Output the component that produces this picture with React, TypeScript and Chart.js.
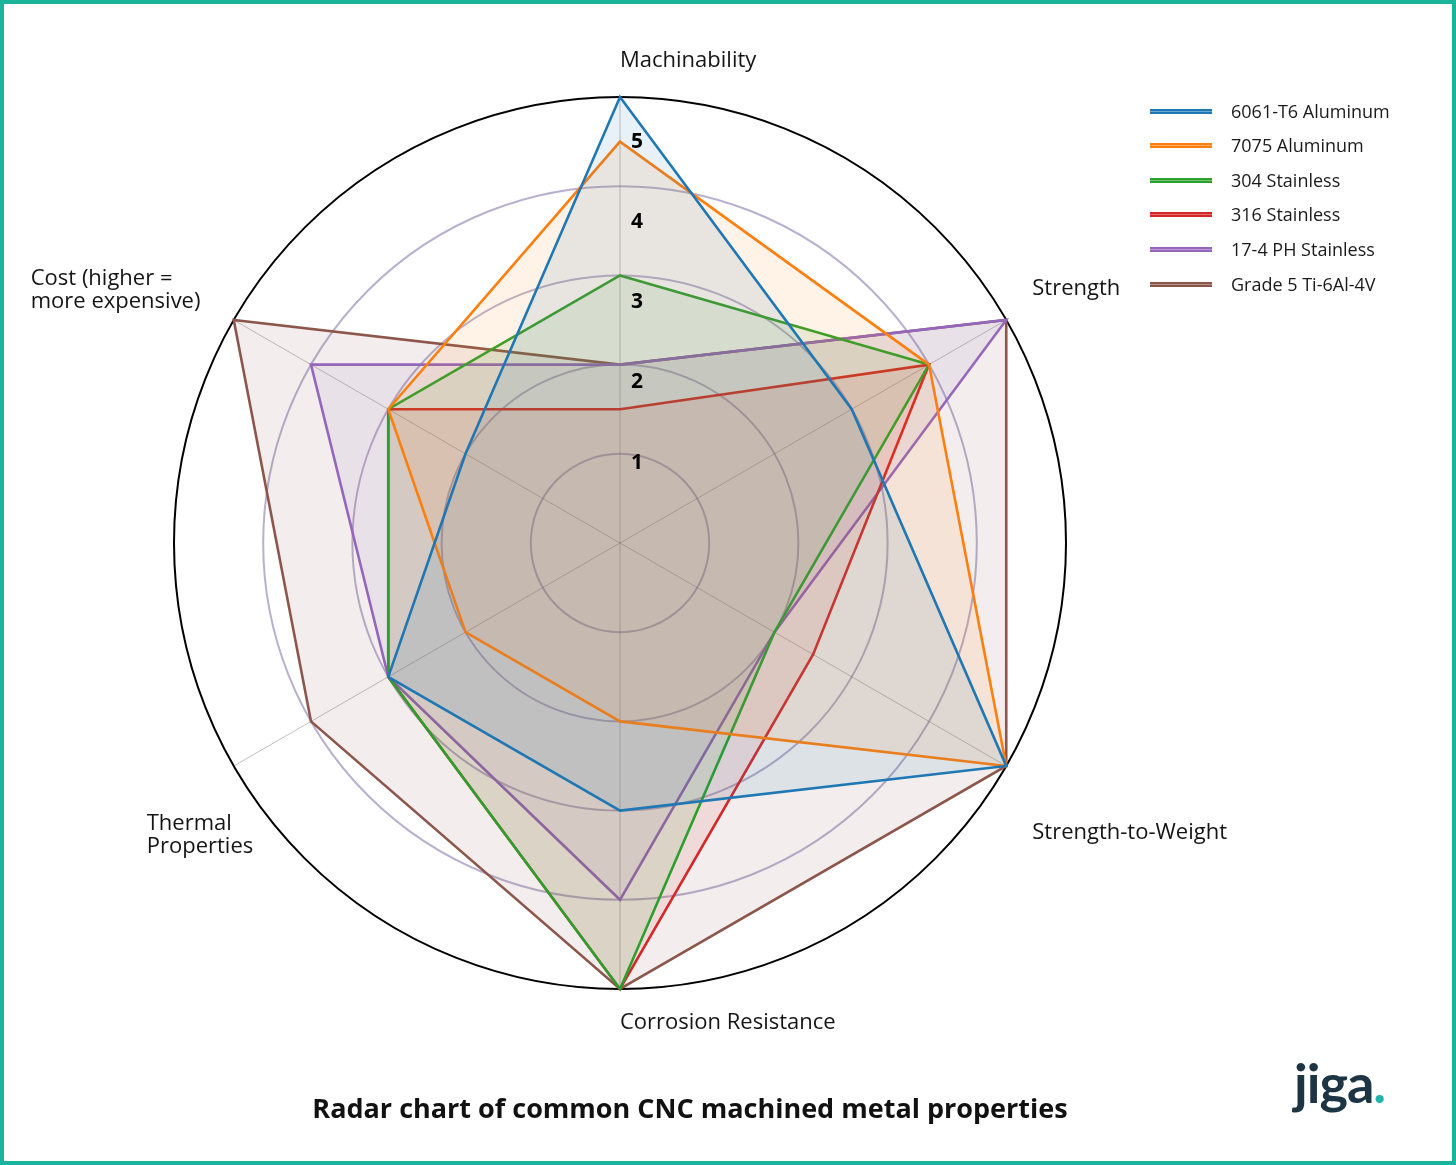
import React, { useEffect, useRef } from "react";
import { Chart, registerables } from "chart.js";

Chart.register(...registerables);

// ---------- data ----------
const categories = [
  "Machinability",
  "Strength",
  "Strength-to-Weight",
  "Corrosion Resistance",
  "Thermal Properties",
  "Cost (higher = more expensive)",
];
const categoryLines = [
  ["Machinability"],
  ["Strength"],
  ["Strength-to-Weight"],
  ["Corrosion Resistance"],
  ["Thermal", "Properties"],
  ["Cost (higher =", "more expensive)"],
];
const seriesNames = [
  "6061-T6 Aluminum",
  "7075 Aluminum",
  "304 Stainless",
  "316 Stainless",
  "17-4 PH Stainless",
  "Grade 5 Ti-6Al-4V",
];
const aluminum6061 = [5, 3, 5, 3, 3, 2];
const aluminum7075 = [4.5, 4, 5, 2, 2, 3];
const stainless304 = [3, 4, 2, 5, 3, 3];
const stainless316 = [1.5, 4, 2.5, 5, 3, 3];
const stainless174 = [2, 5, 2, 4, 3, 4];
const titaniumGr5 = [2, 5, 5, 5, 4, 5];
const seriesValues = [aluminum6061, aluminum7075, stainless304, stainless316, stainless174, titaniumGr5];
const tickValues = [1, 2, 3, 4, 5];
const scaleMin = 0;
const scaleMax = 5;
const chartTitle = "Radar chart of common CNC machined metal properties";

// ---------- styles ----------
const seriesColors = ["#1f77b4", "#ff7f0e", "#2ca02c", "#d62728", "#9467bd", "#8c564b"];
const FONT = "'Open Sans', Lato, sans-serif";
const TEAL = "#1ab39c";

function hexToRgba(hex: string, a: number) {
  const n = parseInt(hex.slice(1), 16);
  return `rgba(${(n >> 16) & 255},${(n >> 8) & 255},${n & 255},${a})`;
}

// label placement relative to each spoke end (left edge offset, block-centre offset)
const labelOffsets = [
  { dx: 0, dy: -36 },
  { dx: 26, dy: -31 },
  { dx: 26, dy: 67 },
  { dx: 0, dy: 34 },
  { dx: -87, dy: 69 },
  { dx: -203, dy: -30 },
];

const labelPlugin = {
  id: "customLabels",
  afterDatasetsDraw(chart: any) {
    const scale = chart.scales.r;
    const ctx = chart.ctx;
    ctx.save();
    // radial tick labels
    ctx.font = `bold 21px ${FONT}`;
    ctx.fillStyle = "#000";
    ctx.textAlign = "center";
    ctx.textBaseline = "middle";
    tickValues.forEach((v) => {
      const d = scale.getDistanceFromCenterForValue(v) * 0.9;
      ctx.fillText(String(v), scale.xCenter + 17, scale.yCenter - d);
    });
    // category labels
    ctx.font = `22px ${FONT}`;
    ctx.fillStyle = "#151515";
    ctx.textAlign = "left";
    const lh = 23;
    categoryLines.forEach((lines, i) => {
      const p = scale.getPointPosition(i, scale.drawingArea);
      const off = labelOffsets[i];
      lines.forEach((t, j) => {
        const y = p.y + off.dy + (j - (lines.length - 1) / 2) * lh;
        ctx.fillText(t, p.x + off.dx, y);
      });
    });
    ctx.restore();
  },
};

export default function App() {
  const canvasRef = useRef<HTMLCanvasElement | null>(null);

  useEffect(() => {
    const canvas = canvasRef.current;
    if (!canvas) return;
    const chart = new Chart(canvas, {
      type: "radar",
      data: {
        labels: categories,
        datasets: seriesNames.map((name, i) => ({
          label: name,
          data: seriesValues[i],
          borderColor: seriesColors[i],
          backgroundColor: hexToRgba(seriesColors[i], 0.1),
          borderWidth: 2.6,
          fill: true,
          pointRadius: 0,
          pointHoverRadius: 0,
        })),
      },
      options: {
        responsive: false,
        animation: false,
        layout: { padding: { left: 174, top: 97, right: 390, bottom: 176 } },
        plugins: {
          legend: { display: false },
          title: { display: false },
          tooltip: { enabled: false },
        },
        elements: { line: { tension: 0 } },
        scales: {
          r: {
            min: scaleMin,
            max: scaleMax,
            beginAtZero: true,
            ticks: { display: false, stepSize: 1 },
            pointLabels: { display: false },
            angleLines: { display: true, color: "rgba(90,90,90,0.55)", lineWidth: 0.7 },
            grid: {
              circular: true,
              color: (c: any) => (c.tick && c.tick.value === scaleMax ? "#000" : "rgba(160,150,190,0.75)"),
              lineWidth: 2,
            },
          },
        },
      },
      plugins: [labelPlugin],
    });
    return () => chart.destroy();
  }, []);

  return (
    <div
      style={{
        position: "absolute",
        left: 0,
        top: 0,
        width: 1456,
        height: 1165,
        background: "#fff",
        fontFamily: FONT,
        overflow: "hidden",
      }}
    >
      <canvas
        ref={canvasRef}
        width={1456}
        height={1165}
        style={{ position: "absolute", left: 0, top: 0, width: 1456, height: 1165 }}
      />
      {/* legend */}
      {seriesNames.map((name, i) => {
        const y = 111 + i * 34.6;
        return (
          <React.Fragment key={name}>
            <div
              style={{
                position: "absolute",
                left: 1150,
                top: y - 2.5,
                width: 62,
                height: 5,
                background: seriesColors[i],
              }}
            >
              <div style={{ marginTop: 2, height: 1, background: "rgba(255,255,255,0.35)" }} />
            </div>
            <div
              style={{
                position: "absolute",
                left: 1231,
                top: y - 12.5,
                fontSize: 18,
                lineHeight: "24px",
                color: "#1a1a1a",
                whiteSpace: "nowrap",
              }}
            >
              {name}
            </div>
          </React.Fragment>
        );
      })}
      {/* title */}
      <div
        style={{
          position: "absolute",
          left: 0,
          width: 1380,
          top: 1090,
          textAlign: "center",
          fontSize: 27,
          lineHeight: "36px",
          fontWeight: 700,
          color: "#111",
          whiteSpace: "nowrap",
        }}
      >
        {chartTitle}
      </div>
      {/* logo */}
      <div
        style={{
          position: "absolute",
          left: 1294,
          top: 1054,
          fontSize: 54,
          lineHeight: "58px",
          fontWeight: 700,
          fontFamily: "Lato, sans-serif",
          color: "#1c3444",
          letterSpacing: -1,
          whiteSpace: "nowrap",
        }}
      >
        jiga<span style={{ color: "#1fb5ad" }}>.</span>
      </div>
      {/* frame */}
      <div
        style={{
          position: "absolute",
          left: 0,
          top: 0,
          width: 1456,
          height: 1165,
          border: `4px solid ${TEAL}`,
          boxSizing: "border-box",
          pointerEvents: "none",
        }}
      />
    </div>
  );
}
